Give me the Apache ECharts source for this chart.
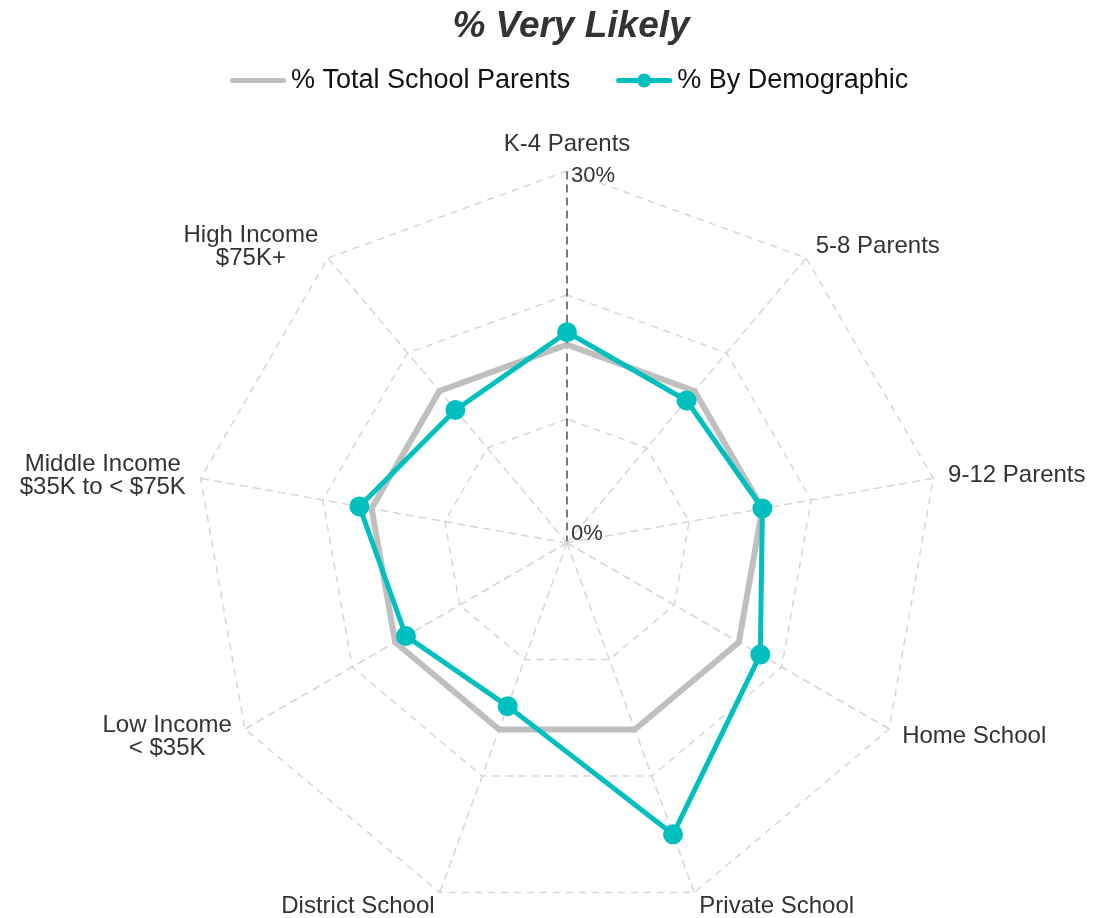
<!DOCTYPE html>
<html>
<head>
<meta charset="utf-8">
<script src="https://cdn.jsdelivr.net/npm/echarts@6/dist/echarts.min.js"></script>
<style>
  html, body { margin: 0; padding: 0; background: #fff; }
  #chart { width: 1099px; height: 918px; }
</style>
</head>
<body>
<div id="chart"></div>
<script>
// categories, clockwise from the top
const categories = [
  'K-4 Parents', '5-8 Parents', '9-12 Parents', 'Home School', 'Private School',
  'District School', 'Low Income\n< $35K', 'Middle Income\n$35K to < $75K', 'High Income\n$75K+'
];
const totalParents = [16, 16, 16, 16, 16, 16, 16, 16, 16];
const byDemographic = [17, 15, 16, 18, 25, 14, 15, 17, 14];
const seriesNames = ['% Total School Parents', '% By Demographic'];
const axisMax = 30;

const FONT = '"Liberation Sans", Arial, sans-serif';
const TEXT = '#333333';
const GRAY = '#bfbfbf';
const TEAL = '#00bfbf';

// echarts lays radar axes out counter-clockwise, so walk the lists backwards after the first
const n = categories.length;
const order = categories.map((_, i) => (i === 0 ? 0 : n - i));
const pick = arr => order.map(i => arr[i]);

// legend icons: a round-capped line, and the same with a dot
const lineIcon = 'path://M0,0 M56,14 M2.5,4.5 L53.5,4.5 A2.5,2.5 0 0 1 53.5,9.5 L2.5,9.5 A2.5,2.5 0 0 1 2.5,4.5 Z';
const dotIcon = lineIcon + ' M21,7 A7,7 0 1 1 35,7 A7,7 0 1 1 21,7 Z';

const chart = echarts.init(document.getElementById('chart'));

const indicator = pick(categories).map((name, i) => {
  const ind = { name: name, min: 0, max: axisMax };
  if (i === 0) {
    // only the first axis is dark and carries the labels
    ind.axisLine = { lineStyle: { color: '#4d4d4d' } };
    ind.axisLabel = {
      show: true,
      margin: -4,
      align: 'left',
      formatter: v => v === 0 ? '{a|0%}' : (v === axisMax ? '{b|30%}' : ''),
      rich: {
        a: { fontSize: 22, color: TEXT, fontFamily: FONT, padding: [0, 0, 18, 0] },
        b: { fontSize: 22, color: TEXT, fontFamily: FONT, padding: [10, 0, 0, 0] }
      }
    };
  }
  return ind;
});

const option = {
  backgroundColor: '#ffffff',
  textStyle: { fontFamily: FONT },
  title: {
    text: '% Very Likely',
    left: 566,
    textAlign: 'center',
    top: 3,
    textStyle: { fontSize: 37, fontWeight: 'bold', fontStyle: 'italic', color: TEXT, fontFamily: FONT }
  },
  legend: {
    left: 230,
    top: 67,
    padding: 0,
    itemWidth: 56,
    itemHeight: 14,
    itemGap: 46,
    textStyle: { fontSize: 27, color: '#111111', fontFamily: FONT },
    data: [
      { name: seriesNames[0], icon: lineIcon },
      { name: seriesNames[1], icon: dotIcon }
    ]
  },
  radar: {
    center: [567, 543],
    radius: 372,
    startAngle: 90,
    shape: 'polygon',
    splitNumber: 3,
    axisNameGap: 15,
    axisName: {
      color: TEXT,
      fontSize: 24,
      fontFamily: FONT,
      formatter: name => name.split('\n').map(s => '{c|' + s + '}').join('\n'),
      rich: { c: { align: 'center', fontSize: 24, lineHeight: 23, color: TEXT, fontFamily: FONT } }
    },
    indicator: indicator,
    axisLine: { show: true, lineStyle: { color: '#d6d6d6', width: 1.5, type: [7, 6] } },
    splitLine: { show: true, lineStyle: { color: '#d6d6d6', width: 1.5, type: [7, 6] } },
    splitArea: { show: false },
    axisTick: { show: false },
    axisLabel: { show: false }
  },
  series: [{
    type: 'radar',
    silent: true,
    data: [
      {
        name: seriesNames[0],
        value: pick(totalParents),
        symbol: 'none',
        itemStyle: { color: GRAY },
        lineStyle: { color: GRAY, width: 6 }
      },
      {
        name: seriesNames[1],
        value: pick(byDemographic),
        symbol: 'circle',
        symbolSize: 20,
        itemStyle: { color: TEAL },
        lineStyle: { color: TEAL, width: 5 }
      }
    ]
  }]
};

chart.setOption(option);
</script>
</body>
</html>
